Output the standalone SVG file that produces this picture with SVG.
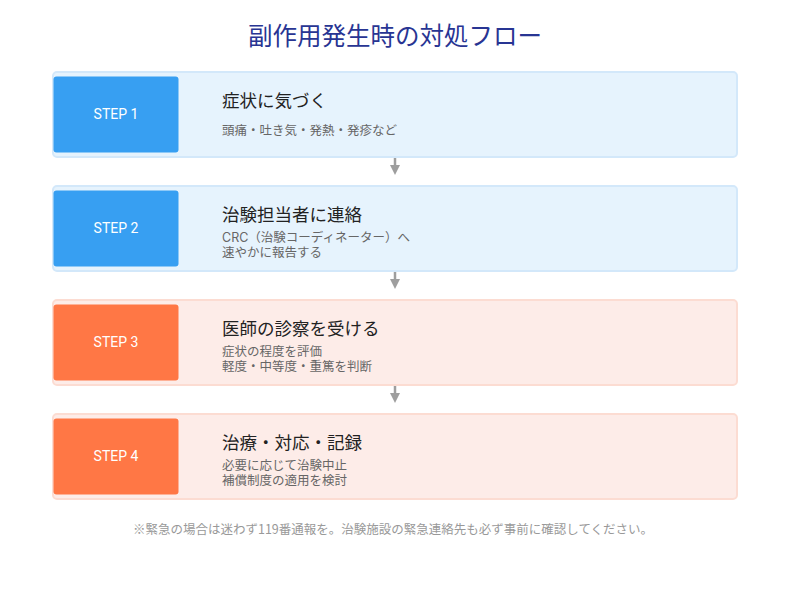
<svg xmlns="http://www.w3.org/2000/svg" width="790" height="590" viewBox="0 0 790 590">
<defs>
<style>
text{font-family:"Inter","Noto Sans CJK JP","Noto Sans",sans-serif}
.ttl{font-size:24.5px;fill:#283593;text-anchor:middle}
.cb{fill:#e6f3fd;stroke:#d3e8fa;stroke-width:2}
.co{fill:#fdece8;stroke:#fcdcd2;stroke-width:2}
.sb{fill:#379ff2}
.so{fill:#ff7745}
.st{font-size:14px;fill:#ffffff;text-anchor:middle;font-family:"Roboto","Inter",sans-serif}
.h{font-size:17.5px;fill:#222222}
.s{font-size:12.5px;fill:#666666}
.ft{font-size:12.5px;fill:#999999;text-anchor:middle;font-family:"Noto Sans CJK JP",sans-serif}
.ar{stroke:#9e9e9e;stroke-width:2.5;fill:none}
</style>
<marker id="ah" markerWidth="4" markerHeight="4" refX="2" refY="2" orient="auto" markerUnits="strokeWidth" viewBox="0 0 4 4">
<path d="M0,0 L4,2 L0,4 z" fill="#9e9e9e"/>
</marker>
</defs>
<rect width="790" height="590" fill="#ffffff"/>
<text class="ttl" x="395" y="45">副作用発生時の対処フロー</text>
<g id="connectors">
<line class="ar" x1="395" y1="154" x2="395" y2="170" marker-end="url(#ah)"/>
<line class="ar" x1="395" y1="268" x2="395" y2="284" marker-end="url(#ah)"/>
<line class="ar" x1="395" y1="382" x2="395" y2="398" marker-end="url(#ah)"/>
</g>
<g id="step1">
<rect class="cb" x="53" y="72" width="684" height="85" rx="4"/>
<rect class="sb" x="53.5" y="76.5" width="125" height="76" rx="3"/>
<text class="st" x="116" y="119">STEP 1</text>
<text class="h" x="222" y="107">症状に気づく</text>
<text class="s" x="222" y="135">頭痛・吐き気・発熱・発疹など</text>
</g>
<g id="step2">
<rect class="cb" x="53" y="186" width="684" height="85" rx="4"/>
<rect class="sb" x="53.5" y="190.5" width="125" height="76" rx="3"/>
<text class="st" x="116" y="233">STEP 2</text>
<text class="h" x="222" y="221">治験担当者に連絡</text>
<text class="s" x="222" y="242">CRC（治験コーディネーター）へ</text>
<text class="s" x="222" y="257">速やかに報告する</text>
</g>
<g id="step3">
<rect class="co" x="53" y="300" width="684" height="85" rx="4"/>
<rect class="so" x="53.5" y="304.5" width="125" height="76" rx="3"/>
<text class="st" x="116" y="347">STEP 3</text>
<text class="h" x="222" y="335">医師の診察を受ける</text>
<text class="s" x="222" y="356">症状の程度を評価</text>
<text class="s" x="222" y="371">軽度・中等度・重篤を判断</text>
</g>
<g id="step4">
<rect class="co" x="53" y="414" width="684" height="85" rx="4"/>
<rect class="so" x="53.5" y="418.5" width="125" height="76" rx="3"/>
<text class="st" x="116" y="461">STEP 4</text>
<text class="h" x="222" y="449">治療・対応・記録</text>
<text class="s" x="222" y="470">必要に応じて治験中止</text>
<text class="s" x="222" y="485">補償制度の適用を検討</text>
</g>
<text class="ft" x="393" y="534">※緊急の場合は迷わず119番通報を。治験施設の緊急連絡先も必ず事前に確認してください。</text>
</svg>
